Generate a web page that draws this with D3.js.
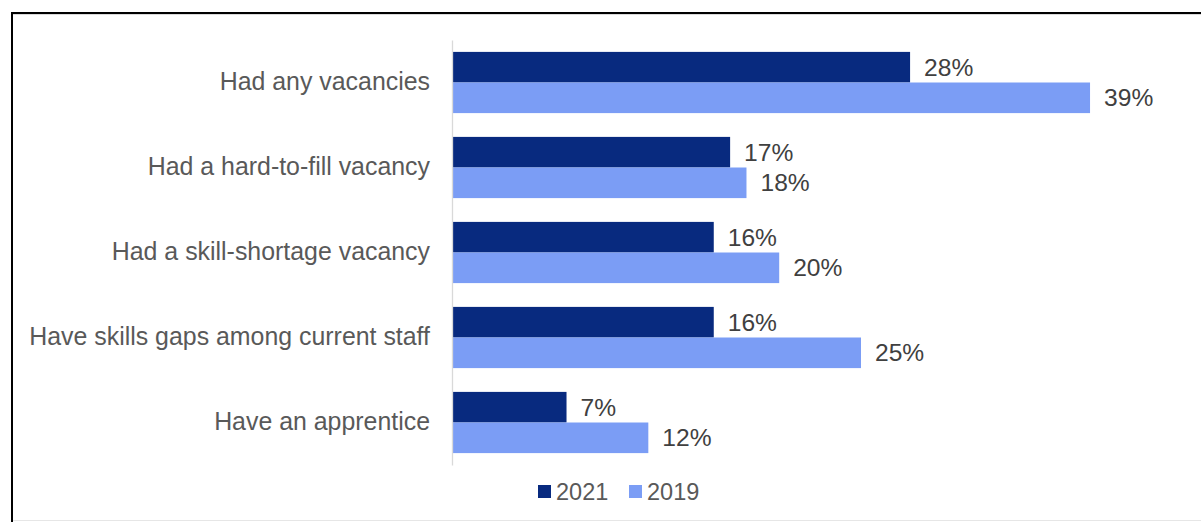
<!DOCTYPE html>
<html>
<head>
<meta charset="utf-8">
<script src="https://cdn.jsdelivr.net/npm/d3@7"></script>
<style>
  html, body { margin: 0; padding: 0; background: #fff; }
  svg { display: block; }
  text { font-family: Arial, "Liberation Sans", sans-serif; }
</style>
</head>
<body>
<svg id="chart" width="1201" height="522"></svg>
<script>
// Workplace skills indicators, share of employers
const categories = [
  "Had any vacancies",
  "Had a hard-to-fill vacancy",
  "Had a skill-shortage vacancy",
  "Have skills gaps among current staff",
  "Have an apprentice"
];
const seriesNames = ["2021", "2019"];
const values2021 = [28, 17, 16, 16, 7];
const values2019 = [39, 18, 20, 25, 12];
const seriesColors = ["#082A7F", "#7B9DF5"];

const svg = d3.select("#chart");
const W = 1201, H = 522;

// Frame: dark top/left edge with a faint lower/inner edge
svg.append("rect").attr("x", 11).attr("y", 12).attr("width", 2).attr("height", H - 12).attr("fill", "#000");
svg.append("rect").attr("x", 11).attr("y", 12).attr("width", W - 11).attr("height", 2).attr("fill", "#000");
svg.append("rect").attr("x", 13).attr("y", 14).attr("width", W - 13).attr("height", 1).attr("fill", "#d9d9d9");
svg.append("rect").attr("x", 13).attr("y", 520).attr("width", W - 13).attr("height", 1).attr("fill", "#e6e6e6");

const x0 = 452;
const x = d3.scaleLinear().domain([0, 40]).range([x0, x0 + 40 * 16.36]);
const y = d3.scaleBand().domain(categories).range([40, 465]).paddingInner(0.28).paddingOuter(0.14);
const ySub = d3.scaleBand().domain(seriesNames).range([0, y.bandwidth()]);

const rows = categories.map((c, i) => ({
  cat: c,
  vals: [
    { series: seriesNames[0], v: values2021[i], color: seriesColors[0] },
    { series: seriesNames[1], v: values2019[i], color: seriesColors[1] }
  ]
}));

const groups = svg.append("g").selectAll("g")
  .data(rows).join("g")
  .attr("transform", d => `translate(0,${y(d.cat)})`);

groups.selectAll("rect")
  .data(d => d.vals).join("rect")
  .attr("x", x(0))
  .attr("y", d => ySub(d.series))
  .attr("width", d => x(d.v) - x(0))
  .attr("height", ySub.bandwidth())
  .attr("fill", d => d.color);

groups.selectAll("text.val")
  .data(d => d.vals).join("text")
  .attr("class", "val")
  .attr("x", d => x(d.v) + 14)
  .attr("y", d => ySub(d.series) + ySub.bandwidth() / 2)
  .attr("dy", "0.35em")
  .attr("font-size", "24.6px")
  .attr("fill", "#404040")
  .text(d => d.v + "%");

// Category axis
const yAxis = d3.axisLeft(y).tickSize(0).tickPadding(22);
const ag = svg.append("g").attr("transform", `translate(${x0},0)`).call(yAxis);
ag.select(".domain").attr("stroke", "#d9d9d9").attr("stroke-width", 1.3);
ag.selectAll("text")
  .attr("font-size", "24.9px")
  .attr("font-family", "Arial, 'Liberation Sans', sans-serif")
  .attr("fill", "#595959");

// Legend
const legendItems = [
  { name: seriesNames[0], color: seriesColors[0], x: 538 },
  { name: seriesNames[1], color: seriesColors[1], x: 629 }
];
const lg = svg.append("g").selectAll("g").data(legendItems).join("g")
  .attr("transform", d => `translate(${d.x},485)`);
lg.append("rect").attr("width", 13).attr("height", 13).attr("fill", d => d.color);
lg.append("text")
  .attr("x", 18).attr("y", 6.5).attr("dy", "0.35em")
  .attr("font-size", "23.5px")
  .attr("fill", "#595959")
  .text(d => d.name);
</script>
</body>
</html>
